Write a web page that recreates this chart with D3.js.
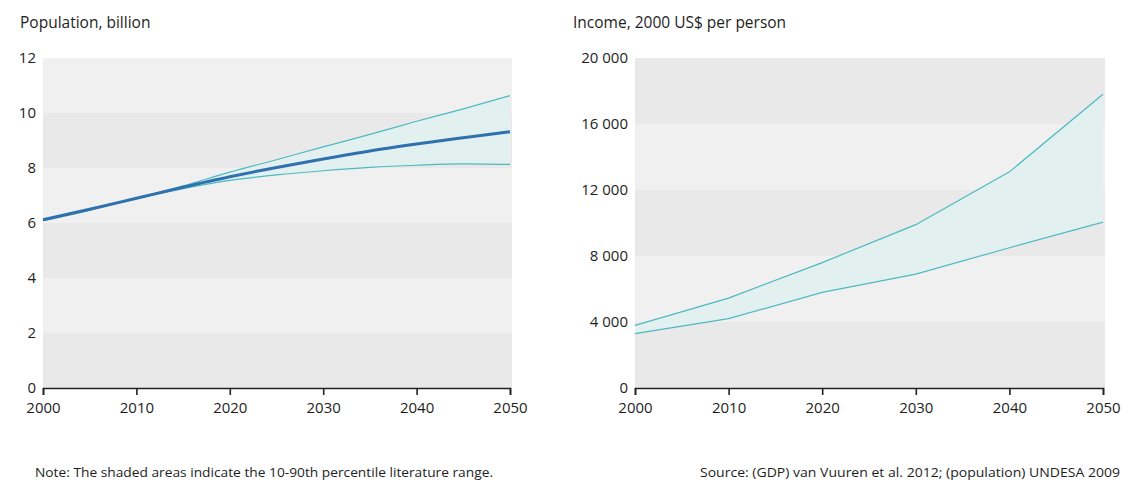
<!DOCTYPE html>
<html>
<head>
<meta charset="utf-8">
<script src="https://cdn.jsdelivr.net/npm/d3@7"></script>
<style>
  body { margin: 0; background: #fff; }
  svg text { font-family: "Open Sans", "Noto Sans", sans-serif; fill: #1e1e1e; }
</style>
</head>
<body>
<svg id="chart" width="1122" height="484"></svg>
<script>
// population, billion (5-year steps)
const popYears = [2000, 2005, 2010, 2015, 2020, 2025, 2030, 2035, 2040, 2045, 2050];
const popMedian = [6.12, 6.5, 6.9, 7.3, 7.68, 8.02, 8.33, 8.62, 8.87, 9.1, 9.32];
const popUpper = [6.12, 6.5, 6.9, 7.35, 7.85, 8.3, 8.77, 9.22, 9.7, 10.15, 10.63];
const popLower = [6.08, 6.46, 6.88, 7.25, 7.55, 7.75, 7.9, 8.02, 8.1, 8.15, 8.13];
const popTicks = [0, 2, 4, 6, 8, 10, 12];

// income, 2000 US$ per person
const incYears = [2000, 2010, 2020, 2030, 2040, 2050];
const incUpper = [3800, 5450, 7600, 9900, 13100, 17800];
const incLower = [3300, 4200, 5800, 6900, 8500, 10050];
const incTicks = [0, 4000, 8000, 12000, 16000, 20000];

const yearTicks = [2000, 2010, 2020, 2030, 2040, 2050];

const svg = d3.select("#chart");
const light = "#f0f0f0", dark = "#e9e9e9";
const teal = "#4db9c1", fillCol = "#e3f0f0", blue = "#2f71ae";

function panel(opts) {
    const x = d3.scaleLinear().domain([2000, 2050]).range(opts.xr);
    const y = d3.scaleLinear().domain([0, opts.ymax]).range([388, 58]);
    const g = svg.append("g");

    // alternating bands, darkest at the bottom
    const t = opts.ticks;
    for (let i = 0; i < t.length - 1; i++) {
        g.append("rect")
            .attr("x", opts.xr[0]).attr("width", opts.xr[1] - opts.xr[0] + 2)
            .attr("y", y(t[i + 1])).attr("height", y(t[i]) - y(t[i + 1]))
            .attr("fill", i % 2 === 0 ? dark : light);
    }

    const data = opts.years.map((yr, i) => ({yr, lo: opts.lower[i], hi: opts.upper[i]}));
    const curve = opts.curve;
    g.append("path").datum(data)
        .attr("fill", fillCol)
        .attr("d", d3.area().curve(curve).x(d => x(d.yr)).y0(d => y(d.lo)).y1(d => y(d.hi)));

    [opts.upper, opts.lower].forEach(arr => {
        g.append("path").datum(opts.years.map((yr, i) => [yr, arr[i]]))
            .attr("fill", "none").attr("stroke", teal).attr("stroke-width", 1.2)
            .attr("d", d3.line().curve(curve).x(d => x(d[0])).y(d => y(d[1])));
    });

    if (opts.median) {
        g.append("path").datum(opts.years.map((yr, i) => [yr, opts.median[i]]))
            .attr("fill", "none").attr("stroke", blue).attr("stroke-width", 3)
            .attr("d", d3.line().curve(curve).x(d => x(d[0])).y(d => y(d[1])));
    }

    // y labels
    g.selectAll(".yl").data(t).enter().append("text")
        .attr("x", opts.xr[0] - 7).attr("y", d => y(d)).attr("dy", "0.32em")
        .attr("text-anchor", "end").attr("font-size", 15)
        .text(d => opts.fmt(d));

    // x axis
    const ax = g.append("g").attr("transform", "translate(0,388)")
        .call(d3.axisBottom(x).tickValues(yearTicks).tickFormat(d3.format("d")).tickSizeOuter(0).tickSize(7));
    ax.select(".domain").attr("stroke", "#222").attr("stroke-width", 1.6);
    ax.selectAll(".tick line").attr("stroke", "#222").attr("stroke-width", 1.6);
    ax.selectAll(".tick text").attr("font-size", 15).attr("y", 14).attr("dy", "0.71em")
        .attr("font-family", "Open Sans, Noto Sans, sans-serif").attr("fill", "#1e1e1e");

    svg.append("text").attr("x", opts.titleX).attr("y", 28)
        .attr("font-size", 15.5).text(opts.title);
}

panel({xr: [43, 510], ymax: 12, ticks: popTicks,
    years: popYears, upper: popUpper, lower: popLower, median: popMedian,
    curve: d3.curveMonotoneX, fmt: d => d, title: "Population, billion", titleX: 20});

panel({xr: [635, 1103], ymax: 20000, ticks: incTicks,
    years: incYears, upper: incUpper, lower: incLower, median: null,
    curve: d3.curveLinear, fmt: d => d3.format(",")(d).replace(/,/g, " "),
    title: "Income, 2000 US$ per person", titleX: 573});

svg.append("text").attr("x", 35).attr("y", 477).attr("font-size", 13)
    .attr("textLength", 458).attr("lengthAdjust", "spacingAndGlyphs")
    .text("Note: The shaded areas indicate the 10-90th percentile literature range.");
svg.append("text").attr("x", 700).attr("y", 477).attr("font-size", 13)
    .attr("textLength", 420).attr("lengthAdjust", "spacingAndGlyphs")
    .text("Source: (GDP) van Vuuren et al. 2012; (population) UNDESA 2009");
</script>
</body>
</html>
